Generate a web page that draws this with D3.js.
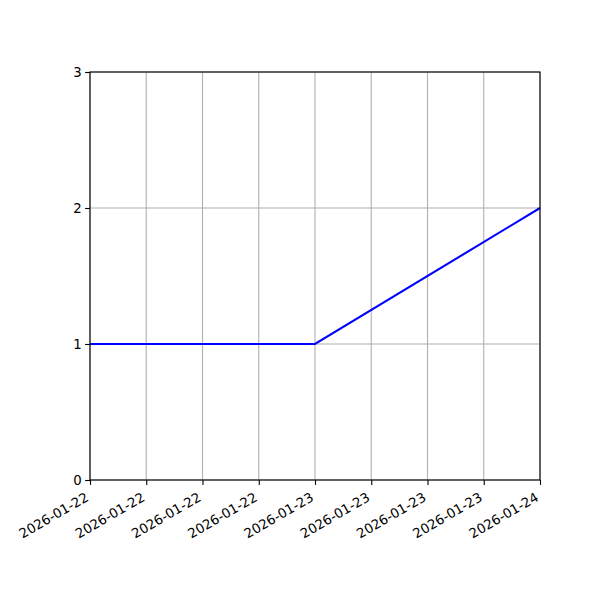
<!DOCTYPE html>
<html><head><meta charset="utf-8">
<script src="https://cdn.jsdelivr.net/npm/d3@7"></script>
<style>body{margin:0;background:#fff}svg{display:block}text{font-family:"DejaVu Sans",sans-serif}</style>
</head><body>
<svg id="c" width="600" height="600"></svg>
<script>
const dates = ["2026-01-22T00:00", "2026-01-23T00:00", "2026-01-24T00:00"];
const values = [1, 1, 2];
const yTicks = [0, 1, 2, 3];
const xTickHours = [0, 6, 12, 18, 24, 30, 36, 42, 48];

const svg = d3.select("#c");
const L = 90, R = 540, T = 72, B = 480;
const parse = d3.timeParse("%Y-%m-%dT%H:%M");
const pts = dates.map((d, i) => ({ t: parse(d), v: values[i] }));
const t0 = pts[0].t, t1 = pts[pts.length - 1].t;
const x = d3.scaleTime().domain([t0, t1]).range([L, R]);
const y = d3.scaleLinear().domain([0, 3]).range([B, T]);
const xTicks = xTickHours.map(h => d3.timeHour.offset(t0, h));
const fmt = d3.timeFormat("%Y-%m-%d");

// grid
const g = svg.append("g");
g.selectAll(".gx").data(xTicks).join("line")
  .attr("x1", d => x(d)).attr("x2", d => x(d)).attr("y1", T).attr("y2", B)
  .attr("stroke", "#b0b0b0").attr("stroke-width", 1.1);
g.selectAll(".gy").data(yTicks).join("line")
  .attr("y1", d => y(d)).attr("y2", d => y(d)).attr("x1", L).attr("x2", R)
  .attr("stroke", "#b0b0b0").attr("stroke-width", 1.1);

// line
svg.append("path").datum(pts)
  .attr("d", d3.line().x(d => x(d.t)).y(d => y(d.v)))
  .attr("fill", "none").attr("stroke", "#0000ff").attr("stroke-width", 2.08);

// axes
const xAxis = svg.append("g").attr("transform", `translate(0,${B})`)
  .call(d3.axisBottom(x).tickValues(xTicks).tickFormat(fmt).tickSize(4.9).tickPadding(3.5));
xAxis.select(".domain").remove();
xAxis.selectAll("line").attr("stroke", "#000").attr("stroke-width", 1.1);
xAxis.selectAll("text").attr("font-size", "13.3px").attr("fill", "#000")
  .attr("text-anchor", "end").attr("dy", null).attr("y", null)
  .attr("transform", "translate(-1,20) rotate(-30)");

const yAxis = svg.append("g").attr("transform", `translate(${L},0)`)
  .call(d3.axisLeft(y).tickValues(yTicks).tickFormat(d3.format("d")).tickSize(4.9).tickPadding(3.5));
yAxis.select(".domain").remove();
yAxis.selectAll("line").attr("stroke", "#000").attr("stroke-width", 1.1);
yAxis.selectAll("text").attr("font-size", "13.3px").attr("fill", "#000");

// spines
svg.append("rect").attr("x", L).attr("y", T).attr("width", R - L).attr("height", B - T)
  .attr("fill", "none").attr("stroke", "#000").attr("stroke-width", 1.1);
</script>
</body></html>
